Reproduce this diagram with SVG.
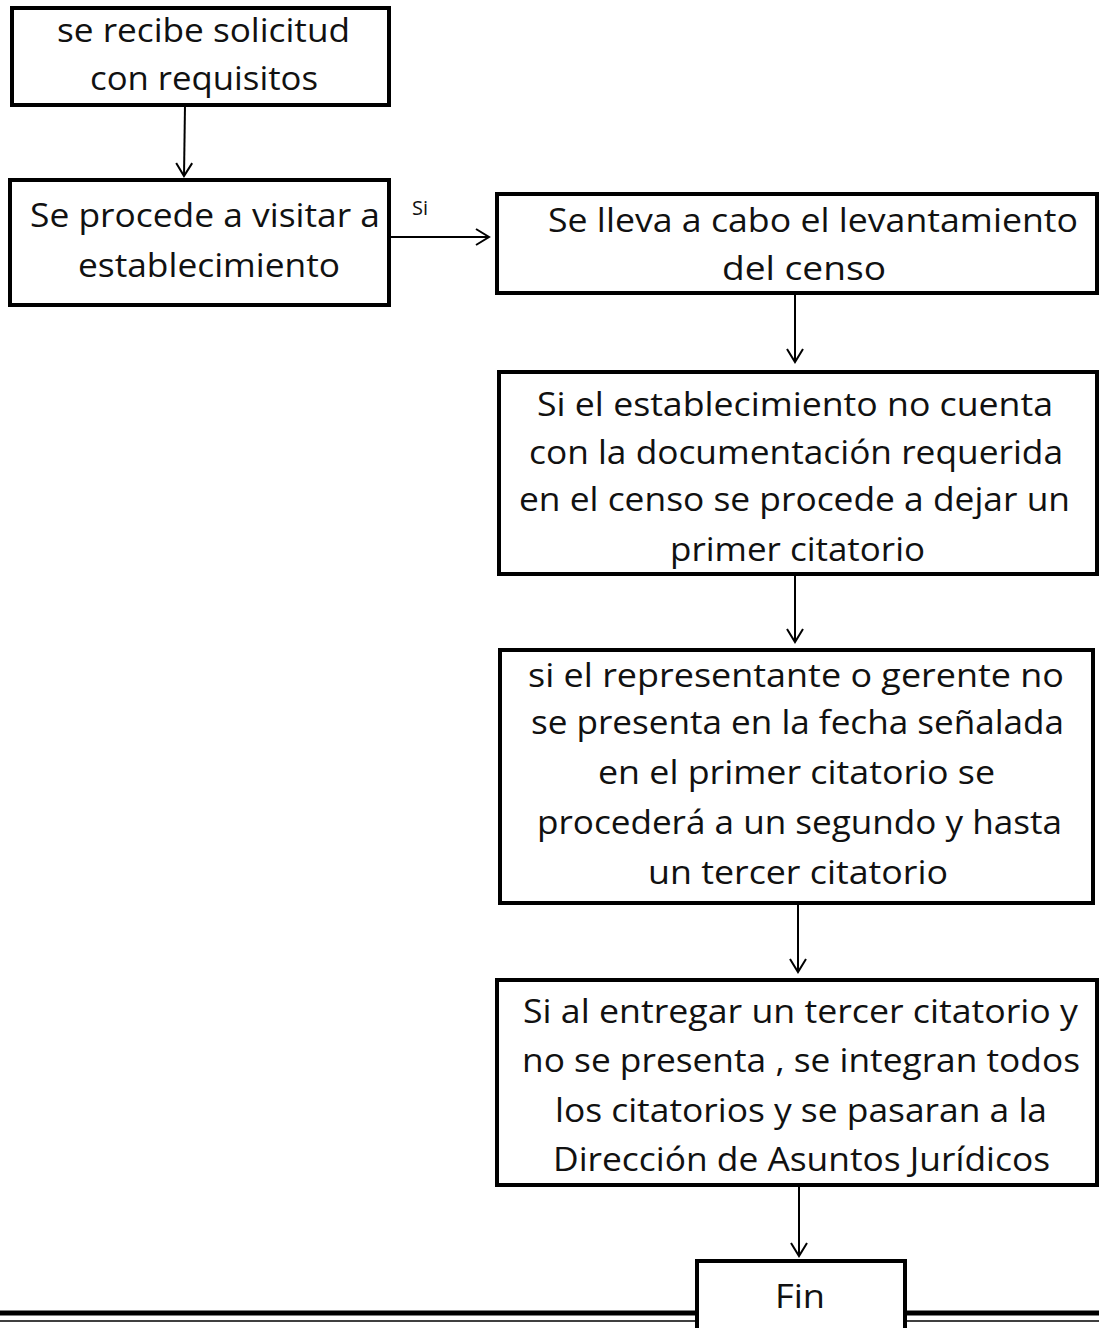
<svg xmlns="http://www.w3.org/2000/svg" width="1099" height="1328" viewBox="0 0 1099 1328">
<defs>
<marker id="arr" markerWidth="18" markerHeight="18" refX="15" refY="9" orient="auto" markerUnits="userSpaceOnUse">
<path d="M2,1 L15,9 L2,17" fill="none" stroke="#000" stroke-width="2"/>
</marker>
<style>
.box{fill:#fff;stroke:#000;stroke-width:4}
.t{font-family:"Open Sans","Liberation Sans",sans-serif;font-size:33px;fill:#111}
.s{font-family:"Open Sans","Liberation Sans",sans-serif;font-size:20px;fill:#111}
.c{fill:none;stroke:#000;stroke-width:2}
</style>
</defs>
<rect width="1099" height="1328" fill="#fff"/>
<g id="connectors">
<line class="c" x1="185" y1="105" x2="184" y2="176" marker-end="url(#arr)"/>
<line class="c" x1="390" y1="237" x2="489" y2="237" marker-end="url(#arr)"/>
<text class="s" x="412" y="215">Si</text>
<line class="c" x1="795" y1="293" x2="795" y2="362" marker-end="url(#arr)"/>
<line class="c" x1="795" y1="574" x2="795" y2="642" marker-end="url(#arr)"/>
<line class="c" x1="798" y1="903" x2="798" y2="972" marker-end="url(#arr)"/>
<line class="c" x1="799" y1="1185" x2="799" y2="1256" marker-end="url(#arr)"/>
</g>
<g id="rules">
<line x1="0" y1="1313" x2="1099" y2="1313" stroke="#000" stroke-width="5"/>
<line x1="0" y1="1321" x2="1099" y2="1321" stroke="#000" stroke-width="1.5"/>
</g>
<g id="n1">
<rect class="box" x="12" y="8" width="377" height="97"/>
<text class="t" x="57" y="42" textLength="293" lengthAdjust="spacingAndGlyphs">se recibe solicitud</text>
<text class="t" x="90" y="90" textLength="228" lengthAdjust="spacingAndGlyphs">con requisitos</text>
</g>
<g id="n2">
<rect class="box" x="10" y="180" width="379" height="125"/>
<text class="t" x="30" y="227" textLength="350" lengthAdjust="spacingAndGlyphs">Se procede a visitar a</text>
<text class="t" x="78" y="277" textLength="262" lengthAdjust="spacingAndGlyphs">establecimiento</text>
</g>
<g id="n3">
<rect class="box" x="497" y="194" width="600" height="99"/>
<text class="t" x="548" y="232" textLength="530" lengthAdjust="spacingAndGlyphs">Se lleva a cabo el levantamiento</text>
<text class="t" x="722" y="280" textLength="164" lengthAdjust="spacingAndGlyphs">del censo</text>
</g>
<g id="n4">
<rect class="box" x="499" y="372" width="598" height="202"/>
<text class="t" x="537" y="416" textLength="516" lengthAdjust="spacingAndGlyphs">Si el establecimiento no cuenta</text>
<text class="t" x="529" y="464" textLength="534" lengthAdjust="spacingAndGlyphs">con la documentación requerida</text>
<text class="t" x="519" y="511" textLength="551" lengthAdjust="spacingAndGlyphs">en el censo se procede a dejar un</text>
<text class="t" x="670" y="561" textLength="255" lengthAdjust="spacingAndGlyphs">primer citatorio</text>
</g>
<g id="n5">
<rect class="box" x="500" y="650" width="593" height="253"/>
<text class="t" x="528" y="687" textLength="536" lengthAdjust="spacingAndGlyphs">si el representante  o gerente no</text>
<text class="t" x="531" y="734" textLength="533" lengthAdjust="spacingAndGlyphs">se presenta en la fecha señalada</text>
<text class="t" x="598" y="784" textLength="397" lengthAdjust="spacingAndGlyphs">en el primer citatorio se</text>
<text class="t" x="537" y="834" textLength="525" lengthAdjust="spacingAndGlyphs">procederá a un segundo y hasta</text>
<text class="t" x="648" y="884" textLength="300" lengthAdjust="spacingAndGlyphs">un tercer citatorio</text>
</g>
<g id="n6">
<rect class="box" x="497" y="980" width="600" height="205"/>
<text class="t" x="523" y="1023" textLength="555" lengthAdjust="spacingAndGlyphs">Si al entregar un tercer citatorio y</text>
<text class="t" x="522" y="1072" textLength="558" lengthAdjust="spacingAndGlyphs">no se presenta , se integran todos</text>
<text class="t" x="555" y="1122" textLength="492" lengthAdjust="spacingAndGlyphs">los citatorios y se pasaran a la</text>
<text class="t" x="553" y="1171" textLength="497" lengthAdjust="spacingAndGlyphs">Dirección de Asuntos Jurídicos</text>
</g>
<g id="n7">
<path class="box" d="M697,1340 L697,1261 L905,1261 L905,1340"/>
<text class="t" x="775" y="1308" textLength="50" lengthAdjust="spacingAndGlyphs">Fin</text>
</g>
</svg>
